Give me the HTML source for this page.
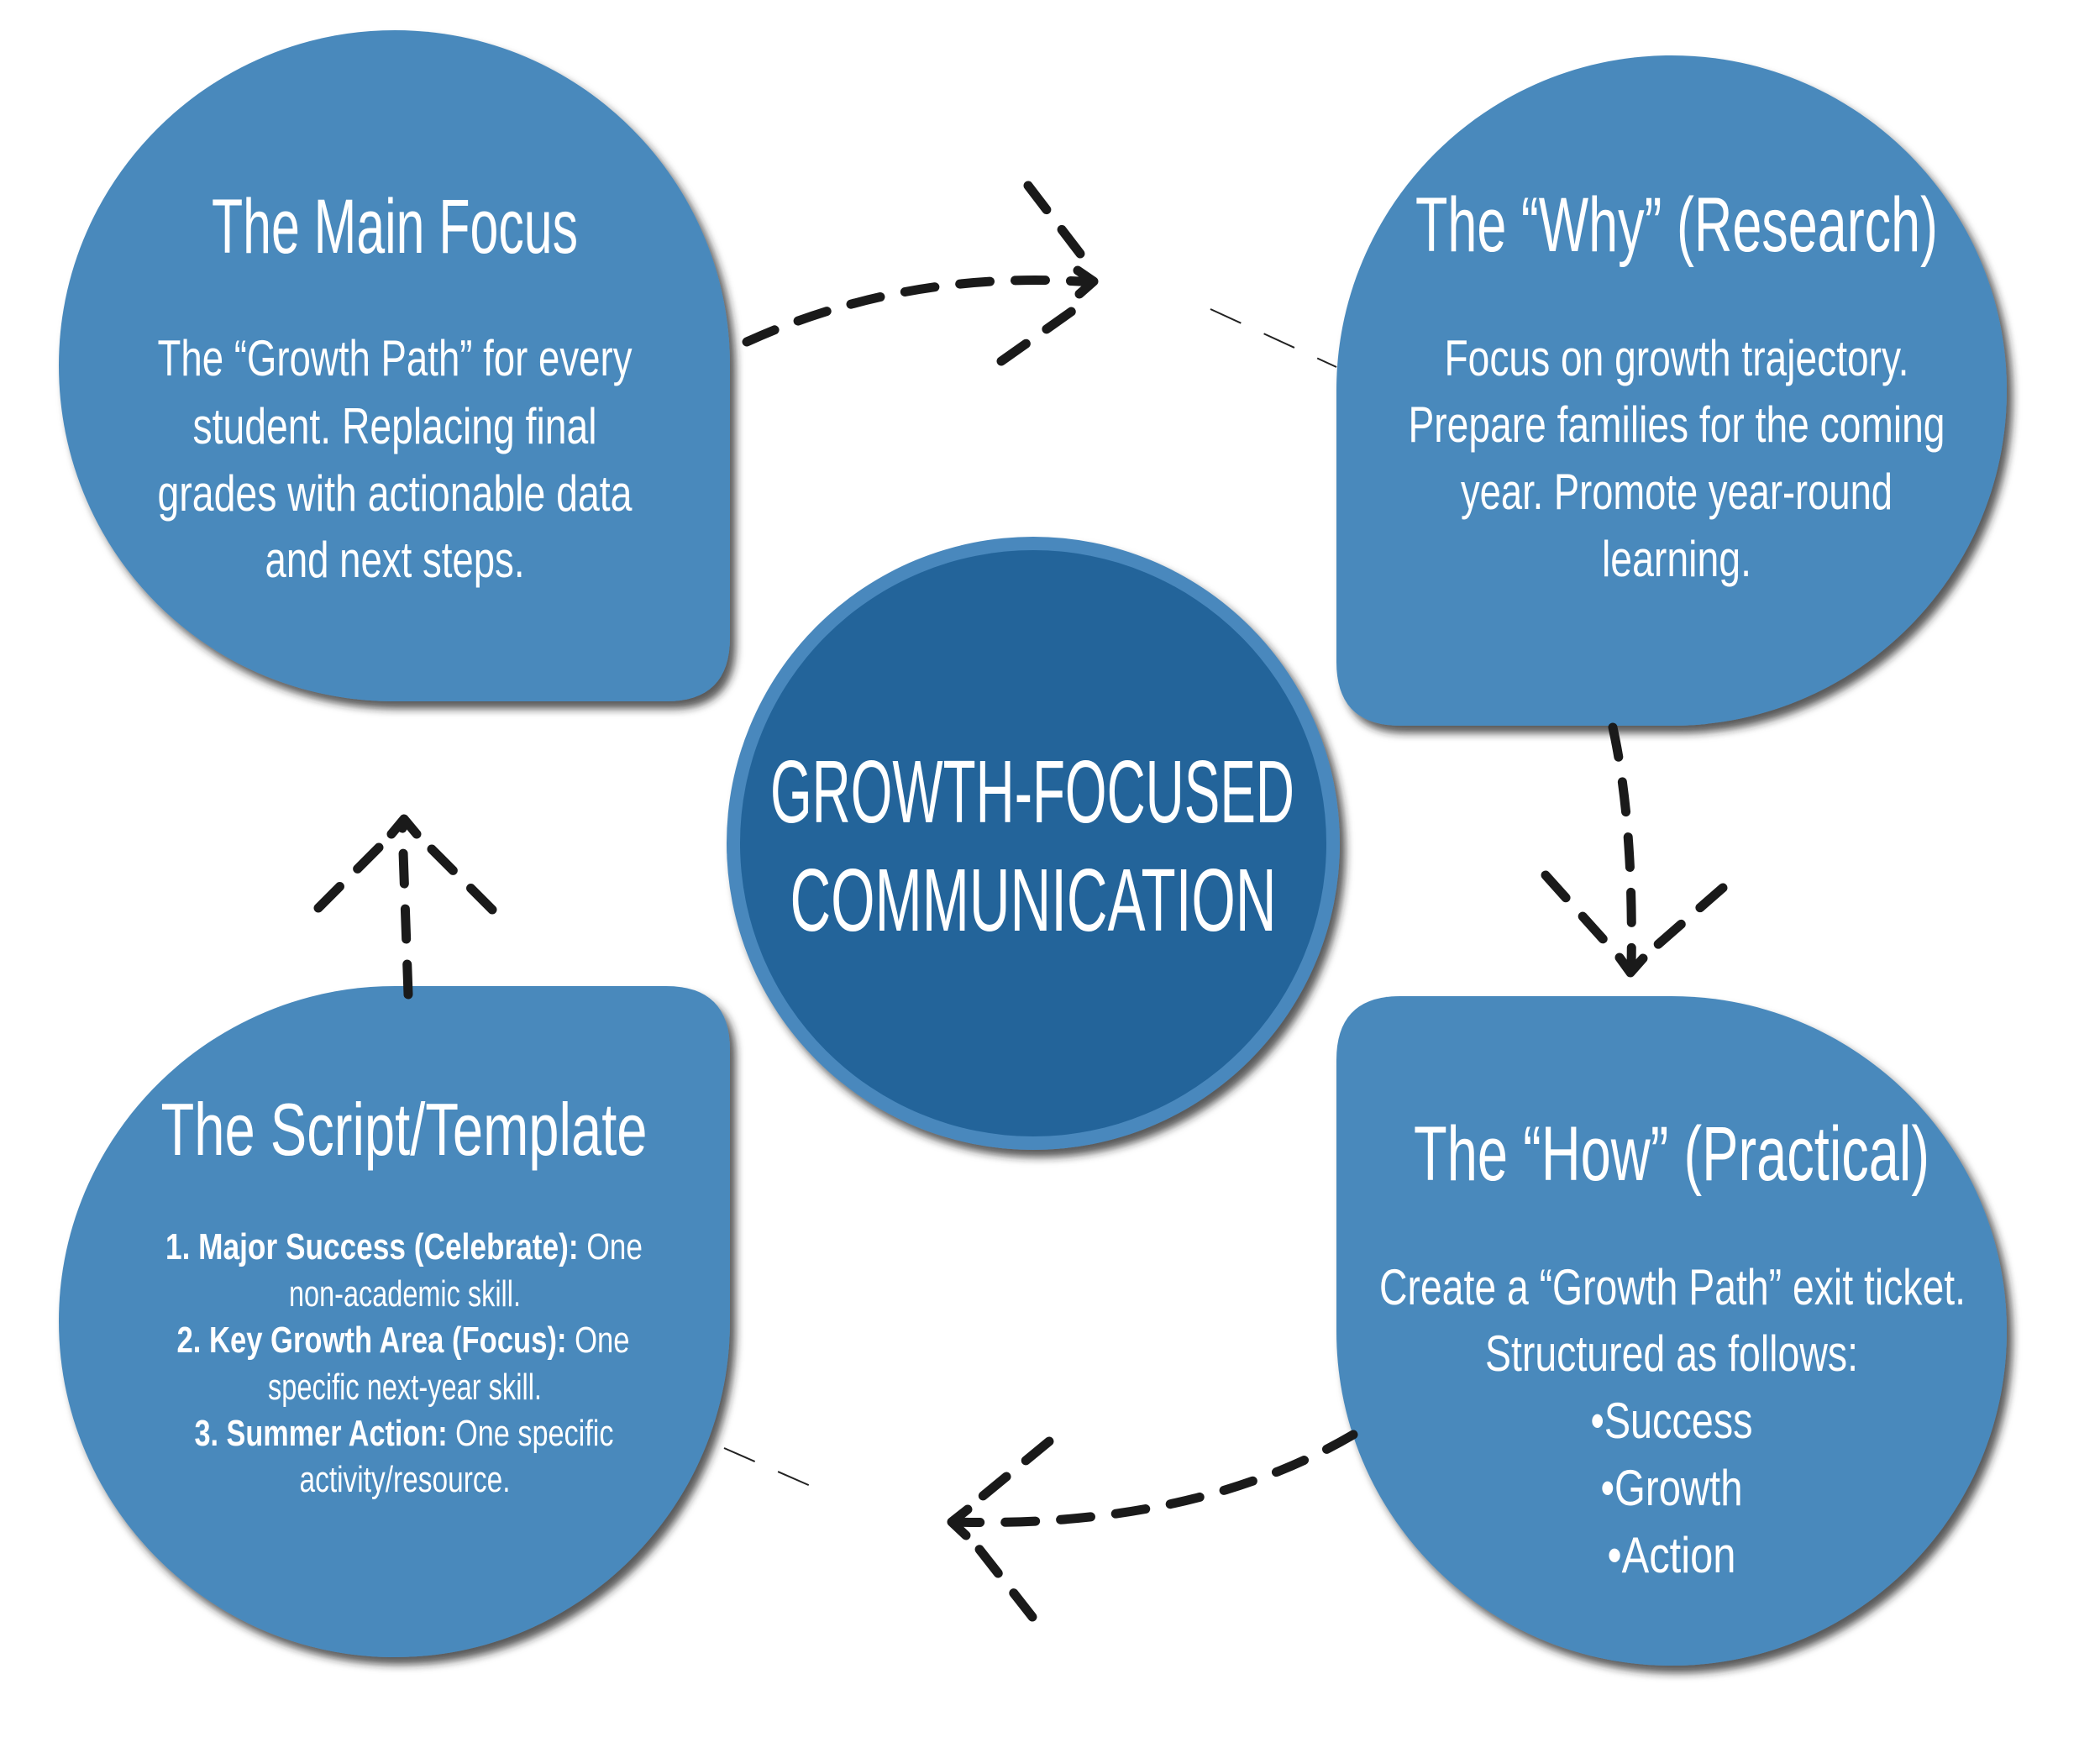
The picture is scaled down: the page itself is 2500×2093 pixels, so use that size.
<!DOCTYPE html>
<html><head><meta charset="utf-8">
<style>
html,body{margin:0;padding:0;background:#fff;}
svg{display:block;}
text{font-family:"Liberation Sans",sans-serif;fill:#fff;text-anchor:middle;}
</style></head>
<body>
<svg width="2500" height="2093" viewBox="0 0 2500 2093" xmlns="http://www.w3.org/2000/svg">
<defs>
<filter id="sh" x="-10%" y="-10%" width="130%" height="130%">
<feDropShadow dx="7" dy="9" stdDeviation="5" flood-color="#222" flood-opacity="0.75"/>
</filter>
</defs>
<rect width="2500" height="2093" fill="#fff"/>

<!-- thin hairline dashes -->
<path d="M1441,368 L1591,437" stroke="#222" stroke-width="2" stroke-dasharray="40,30" fill="none"/>
<path d="M862,1724 L983,1777" stroke="#222" stroke-width="2" stroke-dasharray="40,30" fill="none"/>

<!-- blobs -->
<g fill="#4a89bc" filter="url(#sh)">
<path d="M869,435 L869,759 Q869,835 793,835 L470,835 C245,835 70,655 70,435 C70,215 250,36 470,36 C690,36 869,215 869,435 Z"/>
<path d="M1591,465 C1591,245 1770,66 1990,66 C2210,66 2389,245 2389,465 C2389,685 2210,864 1990,864 L1667,864 Q1591,864 1591,788 Z"/>
<path d="M1591,1262 Q1591,1186 1667,1186 L1990,1186 C2210,1186 2389,1365 2389,1585 C2389,1805 2210,1983 1990,1983 C1770,1983 1591,1805 1591,1585 Z"/>
<path d="M869,1250 Q869,1174 793,1174 L470,1174 C250,1174 70,1353 70,1573 C70,1793 250,1973 470,1973 C690,1973 869,1793 869,1573 Z"/>
</g>

<!-- center circle -->
<g filter="url(#sh)">
<circle cx="1230" cy="1004" r="365" fill="#4a88bd"/>
</g>
<circle cx="1230" cy="1004" r="349" fill="#23649a"/>

<!-- arrows -->
<g stroke="#1a1a1a" stroke-width="11" stroke-linecap="round" fill="none" stroke-dasharray="36,30">
<path d="M889,407 Q1080,320 1300,336"/>
<path d="M1224,221 L1289,306"/>
<path d="M1192,430 L1281,367"/>
<path d="M1920,866 Q1945,980 1942,1150"/>
<path d="M1840,1042 L1912,1122"/>
<path d="M2051,1057 L1972,1126"/>
<path d="M1611,1708 Q1420,1820 1135,1812"/>
<path d="M1249,1716 L1152,1796"/>
<path d="M1229,1925 L1160,1837"/>
<path d="M486,1184 L479,986"/>
<path d="M379,1081 L451,1009"/>
<path d="M586,1083 L514,1011"/>
</g>
<g stroke="#1a1a1a" stroke-width="11" stroke-linecap="round" stroke-linejoin="round" fill="none">
<path d="M1283,322 L1302,335 L1285,350"/>
<path d="M1928,1140 L1941,1158 L1956,1141"/>
<path d="M1152,1797 L1133,1812 L1150,1828"/>
<path d="M466,993 L481,975 L496,993"/>
</g>

<!-- TL text -->
<text x="470" y="301" font-size="92" textLength="436" lengthAdjust="spacingAndGlyphs">The Main Focus</text>
<g font-size="60">
<text x="470" y="447" textLength="565" lengthAdjust="spacingAndGlyphs">The “Growth Path” for every</text>
<text x="470" y="528" textLength="481" lengthAdjust="spacingAndGlyphs">student. Replacing final</text>
<text x="470" y="608" textLength="565" lengthAdjust="spacingAndGlyphs">grades with actionable data</text>
<text x="470" y="687" textLength="309" lengthAdjust="spacingAndGlyphs">and next steps.</text>
</g>

<!-- TR text -->
<text x="1996" y="299" font-size="92" textLength="622" lengthAdjust="spacingAndGlyphs">The “Why” (Research)</text>
<g font-size="60">
<text x="1996" y="447" textLength="553" lengthAdjust="spacingAndGlyphs">Focus on growth trajectory.</text>
<text x="1996" y="526" textLength="639" lengthAdjust="spacingAndGlyphs">Prepare families for the coming</text>
<text x="1996" y="606" textLength="514" lengthAdjust="spacingAndGlyphs">year. Promote year-round</text>
<text x="1996" y="686" textLength="178" lengthAdjust="spacingAndGlyphs">learning.</text>
</g>

<!-- BR text -->
<text x="1990" y="1405" font-size="92" textLength="614" lengthAdjust="spacingAndGlyphs">The “How” (Practical)</text>
<g font-size="60">
<text x="1991" y="1553" textLength="698" lengthAdjust="spacingAndGlyphs">Create a “Growth Path” exit ticket.</text>
<text x="1990" y="1632" textLength="444" lengthAdjust="spacingAndGlyphs">Structured as follows:</text>
<text x="1990" y="1712" textLength="193" lengthAdjust="spacingAndGlyphs">•Success</text>
<text x="1990" y="1792" textLength="169" lengthAdjust="spacingAndGlyphs">•Growth</text>
<text x="1990" y="1872" textLength="153" lengthAdjust="spacingAndGlyphs">•Action</text>
</g>

<!-- BL text -->
<text x="481" y="1375" font-size="88" textLength="579" lengthAdjust="spacingAndGlyphs">The Script/Template</text>
<g font-size="44">
<text x="481" y="1499" textLength="568" lengthAdjust="spacingAndGlyphs"><tspan font-weight="bold">1. Major Success (Celebrate):</tspan> One</text>
<text x="482" y="1555" textLength="276" lengthAdjust="spacingAndGlyphs">non-academic skill.</text>
<text x="480" y="1610" textLength="539" lengthAdjust="spacingAndGlyphs"><tspan font-weight="bold">2. Key Growth Area (Focus):</tspan> One</text>
<text x="482" y="1666" textLength="326" lengthAdjust="spacingAndGlyphs">specific next-year skill.</text>
<text x="481" y="1721" textLength="499" lengthAdjust="spacingAndGlyphs"><tspan font-weight="bold">3. Summer Action:</tspan> One specific</text>
<text x="482" y="1776" textLength="251" lengthAdjust="spacingAndGlyphs">activity/resource.</text>
</g>

<!-- center text -->
<text x="1229" y="979" font-size="106" textLength="624" lengthAdjust="spacingAndGlyphs">GROWTH-FOCUSED</text>
<text x="1230" y="1108" font-size="106" textLength="579" lengthAdjust="spacingAndGlyphs">COMMUNICATION</text>
</svg>
</body></html>
